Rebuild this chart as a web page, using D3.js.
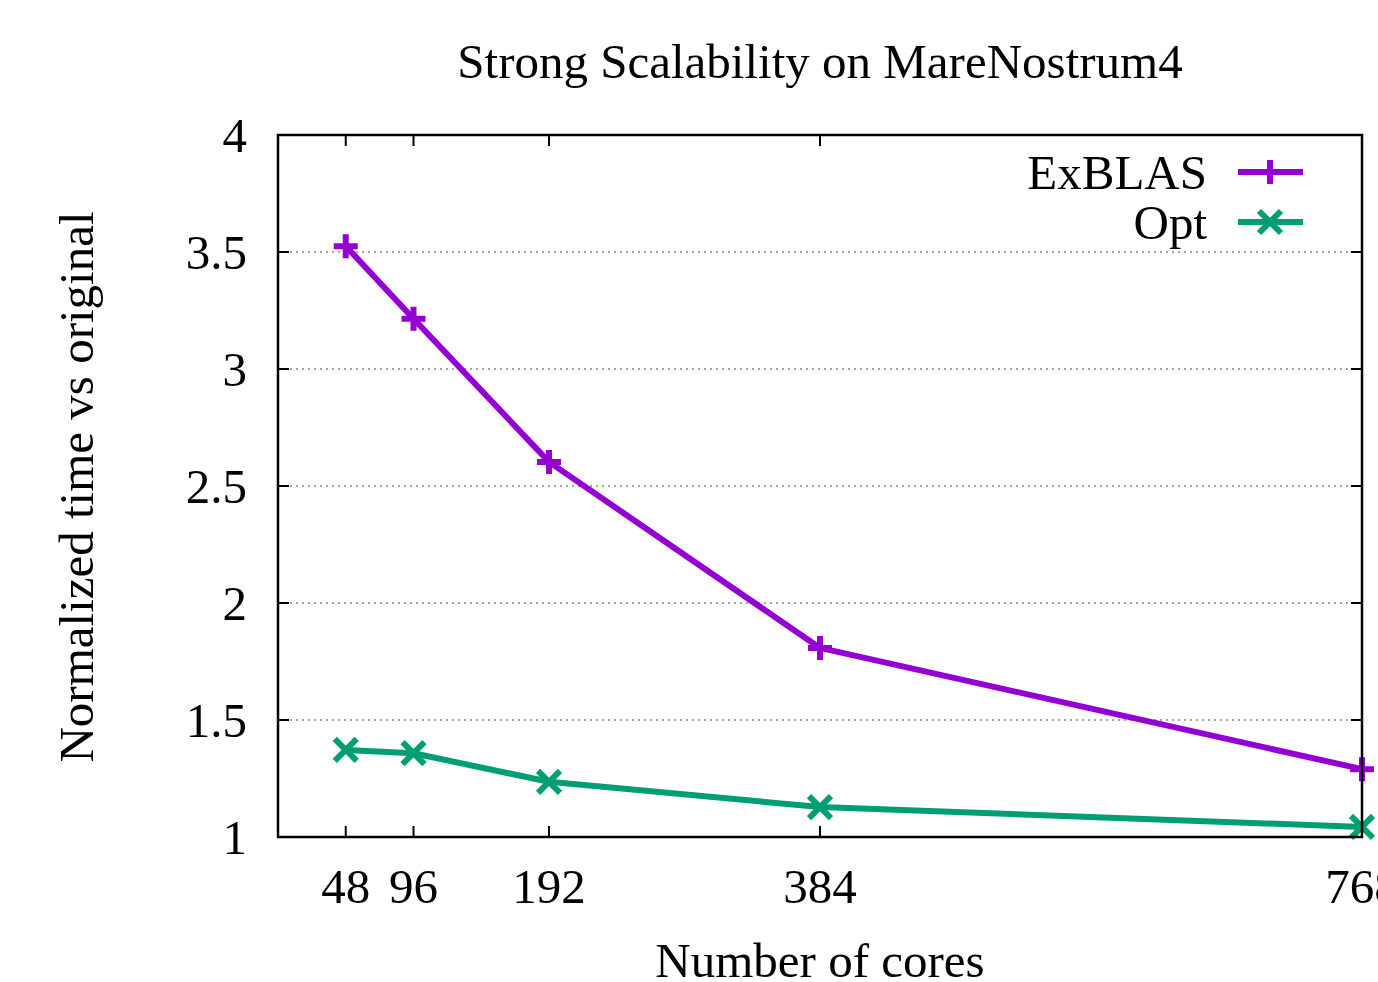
<!DOCTYPE html>
<html>
<head>
<meta charset="utf-8">
<script src="https://cdn.jsdelivr.net/npm/d3@7"></script>
<style>
  body { margin: 0; background: #fff; }
  svg text { font-family: "Liberation Serif", "Times New Roman", serif; fill: #000; }
</style>
</head>
<body>
<svg id="chart" width="1378" height="982"></svg>
<script>
// data
const cores = [48, 96, 192, 384, 768];
const exblas = [3.525, 3.215, 2.603, 1.808, 1.29];
const opt = [1.372, 1.358, 1.236, 1.128, 1.043];
const yTicks = [1, 1.5, 2, 2.5, 3, 3.5, 4];
const yTickLabels = ["1", "1.5", "2", "2.5", "3", "3.5", "4"];

const series = [
  { name: "ExBLAS", values: exblas, color: "#9400d3", marker: "plus" },
  { name: "Opt", values: opt, color: "#009e73", marker: "cross" }
];

const svg = d3.select("#chart");
const plotL = 278, plotR = 1362, plotT = 135, plotB = 837;
const fs = 49;

const x = d3.scaleLinear().domain([0, 768]).range([plotL, plotR]);
const y = d3.scaleLinear().domain([1, 4]).range([plotB, plotT]);

// grid lines
svg.append("g").selectAll("line")
  .data(yTicks.filter(d => d > 1 && d < 4))
  .enter().append("line")
  .attr("x1", plotL).attr("x2", plotR)
  .attr("y1", d => y(d)).attr("y2", d => y(d))
  .attr("stroke", "#888").attr("stroke-width", 1.5)
  .attr("stroke-dasharray", "2,4");

// ticks (inward, mirrored)
const tickLen = 11;
const tickG = svg.append("g").attr("stroke", "#000").attr("stroke-width", 2);
yTicks.forEach(d => {
  tickG.append("line").attr("x1", plotL).attr("x2", plotL + tickLen).attr("y1", y(d)).attr("y2", y(d));
  tickG.append("line").attr("x1", plotR).attr("x2", plotR - tickLen).attr("y1", y(d)).attr("y2", y(d));
});
cores.forEach(d => {
  tickG.append("line").attr("x1", x(d)).attr("x2", x(d)).attr("y1", plotB).attr("y2", plotB - tickLen);
  tickG.append("line").attr("x1", x(d)).attr("x2", x(d)).attr("y1", plotT).attr("y2", plotT + tickLen);
});

// tick labels
svg.append("g").selectAll("text")
  .data(yTicks)
  .enter().append("text")
  .attr("x", 247).attr("y", d => y(d) + 17)
  .attr("text-anchor", "end")
  .attr("font-size", fs)
  .text((d, i) => yTickLabels[i]);

svg.append("g").selectAll("text")
  .data(cores)
  .enter().append("text")
  .attr("x", d => x(d)).attr("y", 903)
  .attr("text-anchor", "middle")
  .attr("font-size", fs)
  .text(d => d);

// lines
const line = d3.line().x((d, i) => x(cores[i])).y(d => y(d));

function drawMarker(g, type, cx, cy, color) {
  const s = type === "plus" ? 12 : 11;
  const path = type === "plus"
    ? `M${cx - s},${cy}L${cx + s},${cy}M${cx},${cy - s}L${cx},${cy + s}`
    : `M${cx - s},${cy - s}L${cx + s},${cy + s}M${cx - s},${cy + s}L${cx + s},${cy - s}`;
  g.append("path").attr("d", path).attr("stroke", color).attr("stroke-width", 6).attr("fill", "none");
}

series.forEach(s => {
  svg.append("path")
    .datum(s.values)
    .attr("d", line)
    .attr("fill", "none")
    .attr("stroke", s.color)
    .attr("stroke-width", 6)
    .attr("stroke-linejoin", "round");
  const mg = svg.append("g");
  s.values.forEach((v, i) => drawMarker(mg, s.marker, x(cores[i]), y(v), s.color));
});

// frame
svg.append("rect")
  .attr("x", plotL).attr("y", plotT)
  .attr("width", plotR - plotL).attr("height", plotB - plotT)
  .attr("fill", "none").attr("stroke", "#000").attr("stroke-width", 2.5);

// legend
series.forEach((s, i) => {
  const ly = 172 + i * 50;
  svg.append("text")
    .attr("x", 1207).attr("y", ly + 17)
    .attr("text-anchor", "end")
    .attr("font-size", fs)
    .text(s.name);
  svg.append("line")
    .attr("x1", 1238).attr("x2", 1303)
    .attr("y1", ly).attr("y2", ly)
    .attr("stroke", s.color).attr("stroke-width", 6);
  drawMarker(svg, s.marker, 1270, ly, s.color);
});

// title and axis labels
svg.append("text")
  .attr("x", 820).attr("y", 78)
  .attr("text-anchor", "middle")
  .attr("font-size", fs)
  .text("Strong Scalability on MareNostrum4");

svg.append("text")
  .attr("x", 820).attr("y", 977)
  .attr("text-anchor", "middle")
  .attr("font-size", fs)
  .text("Number of cores");

svg.append("text")
  .attr("transform", "translate(93,487) rotate(-90)")
  .attr("text-anchor", "middle")
  .attr("font-size", fs)
  .text("Normalized time vs original");
</script>
</body>
</html>
